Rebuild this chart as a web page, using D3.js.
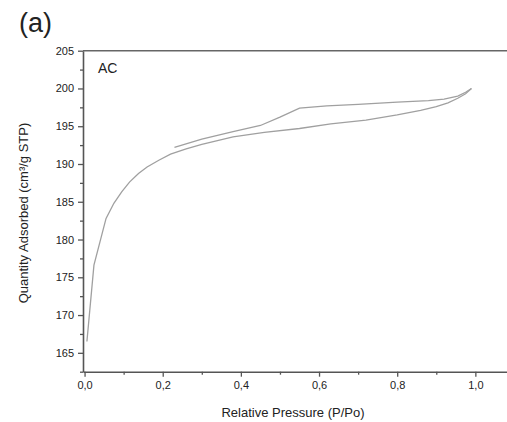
<!doctype html>
<html lang="en">
<head>
<meta charset="UTF-8">
<title>AC isotherm</title>
<style>
  body { margin: 0; background: #fff; }
  svg text { font-family: "Liberation Sans", Arial, sans-serif; fill: #222; }
  .tick text { font-size: 11px; }
  .axis path, .axis line { stroke: #555; }
</style>
</head>
<body>
<svg width="507" height="422"></svg>
<script src="https://d3js.org/d3.v7.min.js"></script>
<script>
// adsorption branch (lower curve)
var adsX = [0.006, 0.024, 0.055, 0.075, 0.095, 0.115, 0.138, 0.16, 0.19, 0.22, 0.26, 0.30, 0.38, 0.46, 0.55, 0.63, 0.72, 0.80, 0.86, 0.90, 0.93, 0.955, 0.975, 0.99];
var adsY = [166.5, 176.6, 182.8, 184.8, 186.3, 187.6, 188.75, 189.6, 190.5, 191.3, 192.0, 192.6, 193.6, 194.2, 194.7, 195.3, 195.8, 196.5, 197.1, 197.6, 198.1, 198.7, 199.3, 200.0];
// desorption branch (upper curve)
var desX = [0.23, 0.30, 0.38, 0.45, 0.50, 0.55, 0.62, 0.70, 0.80, 0.88, 0.92, 0.955, 0.975, 0.99];
var desY = [192.2, 193.3, 194.3, 195.1, 196.2, 197.4, 197.7, 197.9, 198.2, 198.4, 198.6, 199.0, 199.5, 200.0];

var xTicks = [0, 0.2, 0.4, 0.6, 0.8, 1.0];
var xTickLabels = ["0,0", "0,2", "0,4", "0,6", "0,8", "1,0"];
var yTicks = [165, 170, 175, 180, 185, 190, 195, 200, 205];

var svg = d3.select("svg");

var x = d3.scaleLinear().domain([-0.004, 1.104]).range([83, 516]);
var y = d3.scaleLinear().domain([162.5, 205]).range([371.7, 50.7]);

// minor ticks
var xMinor = d3.range(0.1, 1.1, 0.2);
var yMinor = d3.range(162.5, 205, 5);

svg.append("g").attr("class", "axis")
  .attr("transform", "translate(0," + y(162.5) + ")")
  .call(d3.axisBottom(x).tickValues(xMinor).tickSize(3).tickFormat(""))
  .call(function (g) { g.select(".domain").remove(); })
  .selectAll("line").attr("stroke-width", 1.3);

svg.append("g").attr("class", "axis")
  .attr("transform", "translate(" + x(-0.004) + ",0)")
  .call(d3.axisLeft(y).tickValues(yMinor).tickSize(3).tickFormat(""))
  .call(function (g) { g.select(".domain").remove(); })
  .selectAll("line").attr("stroke-width", 1.3);

var xAxis = svg.append("g").attr("class", "axis")
  .attr("transform", "translate(0," + y(162.5) + ")")
  .call(d3.axisBottom(x).tickValues(xTicks).tickSize(5).tickPadding(5).tickSizeOuter(0)
    .tickFormat(function (d, i) { return xTickLabels[i]; }));
xAxis.select(".domain").attr("stroke-width", 1.6);
xAxis.selectAll("line").attr("stroke-width", 1.3);

var yAxis = svg.append("g").attr("class", "axis")
  .attr("transform", "translate(" + x(-0.004) + ",0)")
  .call(d3.axisLeft(y).tickValues(yTicks).tickSize(5).tickPadding(4).tickSizeOuter(0));
yAxis.select(".domain").attr("stroke-width", 1.6);
yAxis.selectAll("line").attr("stroke-width", 1.3);

// top frame line
svg.append("line")
  .attr("x1", x(-0.004)).attr("x2", 507)
  .attr("y1", y(205)).attr("y2", y(205))
  .attr("stroke", "#666").attr("stroke-width", 1.6);

var line = d3.line()
  .x(function (d) { return x(d[0]); })
  .y(function (d) { return y(d[1]); });

svg.append("path")
  .datum(d3.zip(adsX, adsY))
  .attr("fill", "none").attr("stroke", "#a0a0a0").attr("stroke-width", 1.3)
  .attr("d", line);

svg.append("path")
  .datum(d3.zip(desX, desY))
  .attr("fill", "none").attr("stroke", "#a0a0a0").attr("stroke-width", 1.3)
  .attr("d", line);

svg.append("text").attr("x", 98).attr("y", 73).attr("font-size", 14).text("AC");
svg.append("text").attr("x", 19).attr("y", 32).attr("font-size", 27).attr("fill", "#111").text("(a)");

svg.append("text")
  .attr("x", 293).attr("y", 417)
  .attr("text-anchor", "middle").attr("font-size", 13)
  .text("Relative Pressure (P/Po)");

svg.append("text")
  .attr("transform", "translate(28,213) rotate(-90)")
  .attr("text-anchor", "middle").attr("font-size", 13)
  .text("Quantity Adsorbed (cm³/g STP)");
</script>
</body>
</html>
